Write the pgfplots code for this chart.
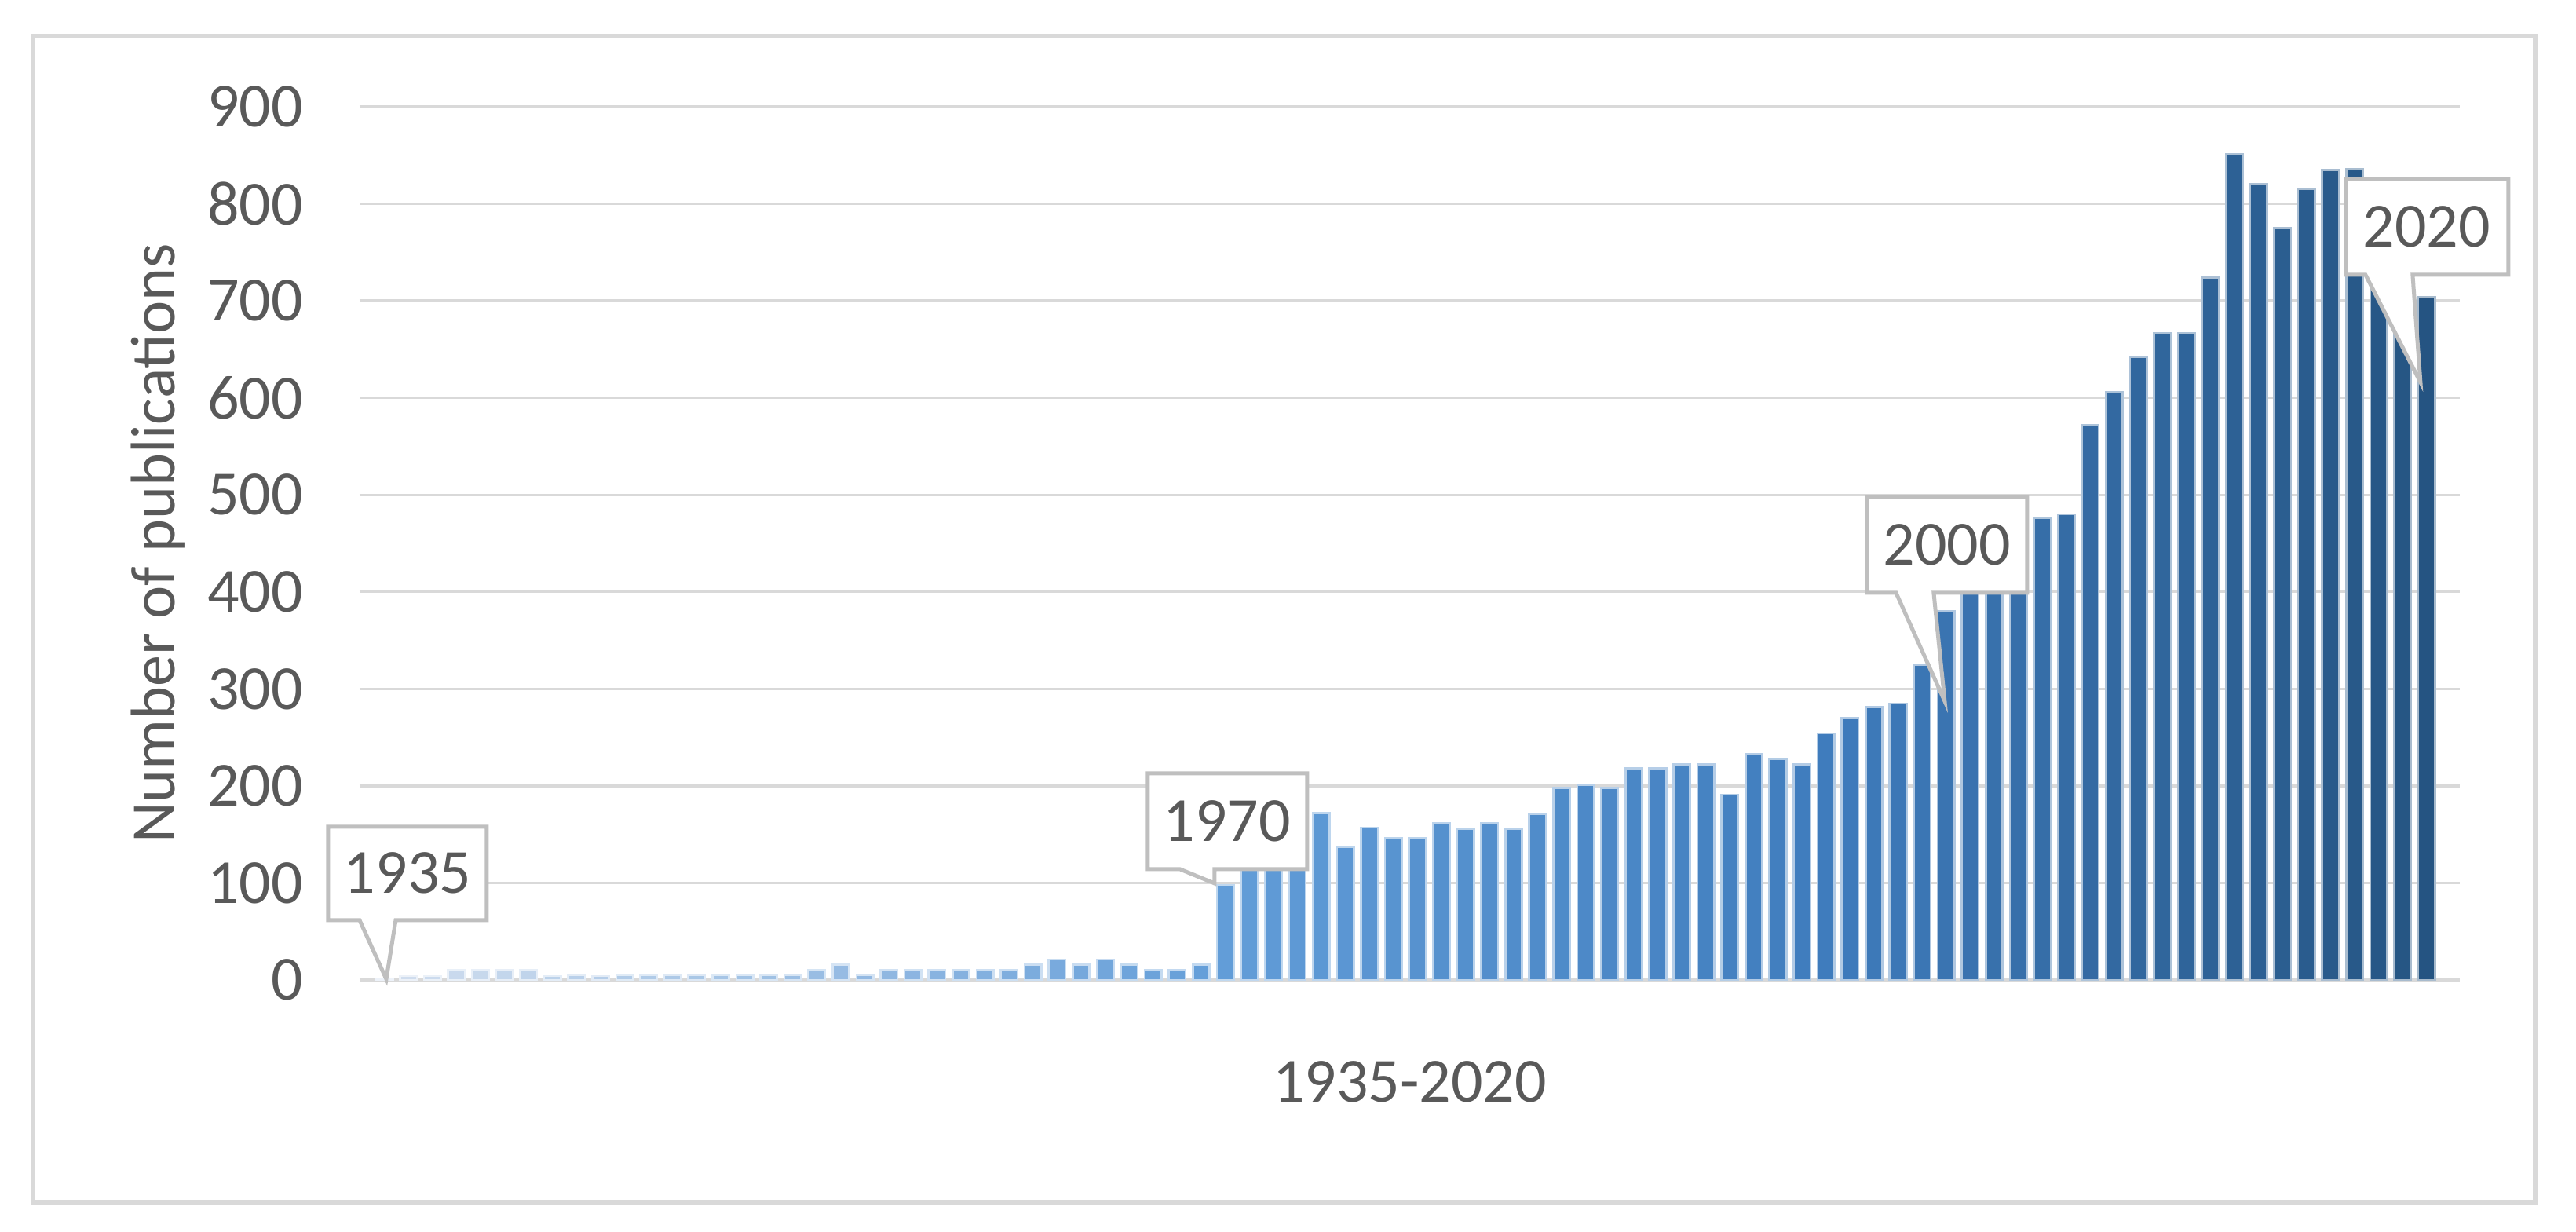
\documentclass[border=0pt]{standalone}
\usepackage{pgfplots}
\pgfplotsset{compat=1.18}
\usepackage{pgfplotstable}
\usepackage{fontspec}
\setmainfont{Carlito}
\definecolor{textgray}{HTML}{595959}
\definecolor{gridgray}{HTML}{D9D9D9}
\definecolor{boxgray}{HTML}{BFBFBF}
\definecolor{cA}{HTML}{D3DFEF}
\definecolor{cB}{HTML}{629DD8}
\definecolor{cM}{HTML}{3F7CBD}
\definecolor{cC}{HTML}{255482}
\foreach \k in {0,...,85}{%
  \ifnum\k<36
    \pgfmathtruncatemacro\p{round(100*\k/35)}%
    \xglobal\colorlet{bc\k}{cB!\p!cA}%
  \else
    \ifnum\k<61
      \pgfmathtruncatemacro\p{round(100*(\k-35)/25)}%
      \xglobal\colorlet{bc\k}{cM!\p!cB}%
    \else
      \pgfmathtruncatemacro\p{round(100*(\k-60)/25)}%
      \xglobal\colorlet{bc\k}{cC!\p!cM}%
    \fi
  \fi
}
\pgfplotstableread{
k year n
0 1935 1
1 1936 4
2 1937 4
3 1938 10
4 1939 10
5 1940 10
6 1941 10
7 1942 4
8 1943 5
9 1944 4
10 1945 5
11 1946 5
12 1947 5
13 1948 5
14 1949 5
15 1950 5
16 1951 5
17 1952 5
18 1953 10
19 1954 16
20 1955 5
21 1956 10
22 1957 10
23 1958 10
24 1959 10
25 1960 10
26 1961 10
27 1962 16
28 1963 21
29 1964 16
30 1965 21
31 1966 16
32 1967 10
33 1968 10
34 1969 16
35 1970 98
36 1971 120
37 1972 125
38 1973 130
39 1974 172
40 1975 137
41 1976 157
42 1977 146
43 1978 146
44 1979 162
45 1980 156
46 1981 162
47 1982 156
48 1983 171
49 1984 198
50 1985 201
51 1986 198
52 1987 218
53 1988 218
54 1989 222
55 1990 222
56 1991 191
57 1992 233
58 1993 228
59 1994 222
60 1995 254
61 1996 270
62 1997 281
63 1998 285
64 1999 325
65 2000 380
66 2001 420
67 2002 430
68 2003 440
69 2004 476
70 2005 480
71 2006 572
72 2007 606
73 2008 642
74 2009 667
75 2010 667
76 2011 724
77 2012 851
78 2013 820
79 2014 775
80 2015 815
81 2016 835
82 2017 836
83 2018 790
84 2019 745
85 2020 704
}\pubdata
\begin{document}
\begin{tikzpicture}
\useasboundingbox (0,0) rectangle (492.15pt,235.35pt);
\fill[white] (0,0) rectangle (492.15pt,235.35pt);
\begin{axis}[
  at={(68.7pt,48.15pt)}, anchor=south west,
  width=401.25pt, height=166.8pt, scale only axis,
  xmin=-1.03, xmax=86.38, ymin=0, ymax=900,
  ytick={0,100,...,900}, xtick=\empty,
  axis line style={draw=none},
  ymajorgrids, grid style={draw=gridgray, line width=0.5pt},
  major tick length=0pt,
  /pgf/number format/assume math mode=true,
  yticklabel style={inner sep=0pt, xshift=-10.65pt, text=textgray, font=\fontsize{12}{14}\selectfont},
  ylabel={Number of publications},
  xlabel={1935-2020},
  every axis y label/.style={at={(axis description cs:-0.0961,0.5)}, rotate=90, anchor=center, text=textgray, font=\fontsize{12}{14}\selectfont},
  every axis x label/.style={at={(axis description cs:0.5,-0.1169)}, anchor=center, text=textgray, font=\fontsize{12}{14}\selectfont},
  clip=false,
]
\pgfplotsinvokeforeach{0,...,85}{
  \addplot[ybar, bar width=0.7, bar shift=0pt, fill=bc#1, draw=bc#1!40!white, line width=0.4pt, restrict x to domain=#1:#1]
    table[x=k, y=n] {\pubdata};
}
\end{axis}
\begin{scope}[shift={(0pt,235.35pt)}, x=0.15pt, y=-0.15pt]
  % outer chart frame
  \draw[gridgray, line width=0.9pt] (42,46) rectangle (3229,1531);
  % callouts
  \tikzset{callout/.style={fill=white, draw=boxgray, line width=0.75pt, line join=miter}}
  \path[callout] (418,1053) -- (620,1053) -- (620,1172) -- (504,1172) -- (492,1247) -- (458,1172) -- (418,1172) -- cycle;
  \node[text=textgray, font=\fontsize{12}{14}\selectfont] at (519,1112) {1935};
  \path[callout] (1462,985) -- (1665,985) -- (1665,1107) -- (1547,1107) -- (1547,1125) -- (1503,1107) -- (1462,1107) -- cycle;
  \node[text=textgray, font=\fontsize{12}{14}\selectfont] at (1563,1046) {1970};
  \path[callout] (2378,633) -- (2582,633) -- (2582,755) -- (2463,755) -- (2477,893) -- (2415,755) -- (2378,755) -- cycle;
  \node[text=textgray, font=\fontsize{12}{14}\selectfont] at (2480,694) {2000};
  \path[callout] (2988,228) -- (3195,228) -- (3195,350) -- (3073,350) -- (3083,487) -- (3013,350) -- (2988,350) -- cycle;
  \node[text=textgray, font=\fontsize{12}{14}\selectfont] at (3091,289) {2020};
\end{scope}
\end{tikzpicture}
\end{document}
